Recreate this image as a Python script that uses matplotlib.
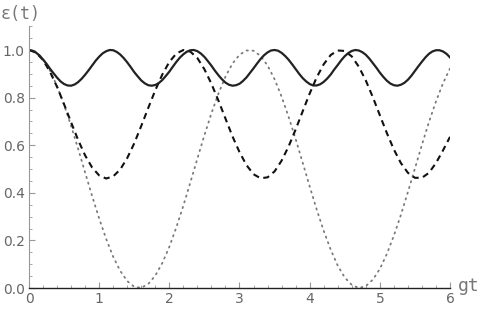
import numpy as np
import matplotlib
matplotlib.use("Agg")
import matplotlib.pyplot as plt
from matplotlib.ticker import MultipleLocator, FormatStrFormatter

# sampled gt values
t_vals = [round(0.1 * i, 1) for i in range(61)]
t_fine = [round(0.05 * i, 2) for i in range(121)]

solid_vals = [1.000, 0.997, 0.989, 0.977, 0.960, 0.942, 0.921, 0.902, 0.884, 0.868,
              0.857, 0.851, 0.850, 0.855, 0.865, 0.879, 0.896, 0.915, 0.935, 0.955,
              0.972, 0.986, 0.995, 1.000, 0.999, 0.992, 0.981, 0.966, 0.948, 0.928,
              0.907, 0.889, 0.872, 0.860, 0.852, 0.850, 0.853, 0.861, 0.874, 0.891,
              0.909, 0.930, 0.950, 0.968, 0.982, 0.993, 0.999, 1.000, 0.995, 0.985,
              0.971, 0.953, 0.934, 0.913, 0.894, 0.877, 0.863, 0.854, 0.850, 0.852,
              0.858, 0.870, 0.885, 0.904, 0.923, 0.943, 0.962, 0.978, 0.990, 0.998,
              1.000, 0.997, 0.988, 0.975, 0.959, 0.940, 0.920, 0.900, 0.882, 0.868,
              0.857, 0.851, 0.851, 0.856, 0.866, 0.880, 0.897, 0.918, 0.937, 0.957,
              0.974, 0.987, 0.996, 1.000, 0.998, 0.991, 0.980, 0.964, 0.945, 0.926,
              0.905, 0.887, 0.871, 0.859, 0.852, 0.850, 0.854, 0.862, 0.875, 0.892,
              0.912, 0.932, 0.951, 0.969, 0.984, 0.994, 0.999, 0.999, 0.994, 0.984,
              0.969]

dashed_vals = [1.000, 0.989, 0.958, 0.908, 0.845, 0.772, 0.696, 0.622, 0.557, 0.506,
               0.473, 0.460, 0.469, 0.498, 0.546, 0.608, 0.681, 0.757, 0.831, 0.897,
               0.950, 0.985, 1.000, 0.993, 0.966, 0.919, 0.858, 0.787, 0.712, 0.637,
               0.571, 0.516, 0.478, 0.461, 0.465, 0.490, 0.535, 0.595, 0.666, 0.742,
               0.817, 0.885, 0.940, 0.979, 0.998, 0.996, 0.973, 0.930, 0.872, 0.802,
               0.726, 0.651, 0.582, 0.525, 0.484, 0.463, 0.463, 0.484, 0.525, 0.578,
               0.635]

dotted_vals = [1.000, 0.990, 0.961, 0.913, 0.848, 0.770, 0.681, 0.585, 0.485, 0.386,
               0.292, 0.206, 0.131, 0.072, 0.029, 0.005, 0.001, 0.017, 0.052, 0.105,
               0.173, 0.255, 0.346, 0.444, 0.544, 0.642, 0.734, 0.817, 0.888, 0.943,
               0.980, 0.998, 0.997, 0.975, 0.935, 0.877, 0.804, 0.719, 0.626, 0.527,
               0.427, 0.330, 0.240, 0.161, 0.094, 0.044, 0.013, 0.000, 0.008, 0.035,
               0.080, 0.143, 0.220, 0.307, 0.403, 0.502, 0.602, 0.697, 0.784, 0.860,
               0.922]

x_ticks = [0, 1, 2, 3, 4, 5, 6]
y_ticks = [0.0, 0.2, 0.4, 0.6, 0.8, 1.0]

W, H = 487, 312
fig = plt.figure(figsize=(W / 100, H / 100), dpi=100)
ax = fig.add_axes([29 / W, 1 - 288 / H, (450 - 29) / W, 261.8 / H])

ax.plot(t_vals, dotted_vals, color="#7a7a7a", lw=1.3, linestyle=(0, (0.7, 2.6)),
        dash_capstyle="round")
ax.plot(t_vals, dashed_vals, color="#111111", lw=1.5, linestyle=(0, (3.0, 2.2)))
ax.plot(t_fine, solid_vals, color="#222222", lw=1.6)

ax.set_xlim(0, 6)
ax.set_ylim(0, 1.1)

for s in ["top", "right"]:
    ax.spines[s].set_visible(False)
ax.spines["left"].set_color("#999999")
ax.spines["bottom"].set_color("#222222")
ax.spines["left"].set_linewidth(0.8)
ax.spines["bottom"].set_linewidth(1.0)

ax.set_xticks(x_ticks)
ax.set_yticks(y_ticks)
ax.xaxis.set_minor_locator(MultipleLocator(0.2))
ax.yaxis.set_minor_locator(MultipleLocator(0.05))
ax.yaxis.set_major_formatter(FormatStrFormatter("%.1f"))
ax.tick_params(which="both", direction="in", colors="#999999", labelcolor="#666666",
               labelsize=10)
ax.tick_params(which="major", length=4, width=0.8)
ax.tick_params(which="minor", length=2, width=0.6)
ax.tick_params(axis="x", pad=3)
ax.tick_params(axis="y", pad=3)

fig.text(1 / W, 1 - 14 / H, "ε(t)", family="DejaVu Sans Mono", color="#777777",
         fontsize=12, va="center", ha="left")
fig.text(458 / W, 1 - 286 / H, "gt", family="DejaVu Sans Mono", color="#777777",
         fontsize=13, va="center", ha="left")

fig.savefig("out.png", dpi=100)
